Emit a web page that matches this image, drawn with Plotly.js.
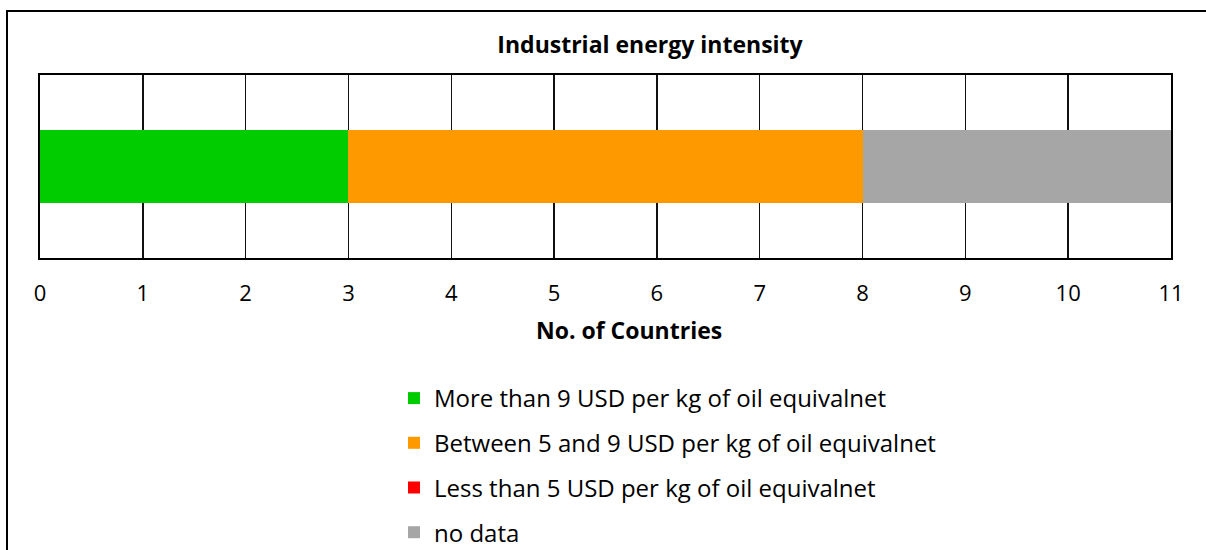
<!DOCTYPE html>
<html>
<head>
<meta charset="utf-8">
<script src="https://cdn.plot.ly/plotly-3.0.1.min.js"></script>
<style>
  html, body { margin: 0; padding: 0; overflow: hidden; background: #fff; }
  #chart { position: absolute; left: 0; top: 0; width: 1206px; height: 550px; }
  #frame { position: absolute; left: 6px; top: 10px; width: 1300px; height: 700px;
           border-left: 2px solid #000; border-top: 2px solid #000; pointer-events: none; }
</style>
</head>
<body>
<div id="chart"></div>
<div id="frame"></div>
<script>
const categories = [''];
const seriesNames = [
  'More than 9 USD per kg of oil equivalnet',
  'Between 5 and 9 USD per kg of oil equivalnet',
  'Less than 5 USD per kg of oil equivalnet',
  'no data'
];
const seriesValues = [[3], [5], [0], [3]];
const seriesColors = ['#00CC00', '#FF9900', '#FF0000', '#A6A6A6'];
const xTickValues = [0,1,2,3,4,5,6,7,8,9,10,11];

const FONT = 'Open Sans, Noto Sans, sans-serif';

const traces = seriesNames.map((name, i) => ({
  type: 'bar',
  orientation: 'h',
  name: name,
  y: categories,
  x: seriesValues[i],
  marker: { color: seriesColors[i], line: { width: 0 } },
  legendgroup: 'g' + i,
  hoverinfo: 'x+name'
}));

const layout = {
  width: 1206,
  height: 550,
  margin: { l: 40, r: 35, t: 75, b: 292, autoexpand: false },
  paper_bgcolor: '#fff',
  plot_bgcolor: '#fff',
  barmode: 'stack',
  bargap: 0.6,
  font: { family: FONT, size: 22, color: '#000' },
  title: {
    text: '<b>Industrial energy intensity</b>',
    font: { family: FONT, size: 23, color: '#000' },
    x: 650 / 1206, xanchor: 'center',
    y: 1 - 45 / 550, yanchor: 'middle', yref: 'container'
  },
  xaxis: {
    range: [0, 11],
    tickvals: xTickValues,
    ticktext: xTickValues.map(String),
    showgrid: true,
    gridcolor: '#111',
    gridwidth: 1.5,
    showline: true,
    mirror: true,
    linecolor: '#000',
    linewidth: 2,
    zeroline: false,
    ticks: '',
    ticklabelstandoff: 15,
    automargin: false,
    tickfont: { family: FONT, size: 22, color: '#000' },
    fixedrange: true
  },
  yaxis: {
    range: [-0.5, 0.5],
    showgrid: false,
    showline: true,
    mirror: true,
    linecolor: '#000',
    linewidth: 2,
    zeroline: false,
    showticklabels: false,
    ticks: '',
    automargin: false,
    fixedrange: true
  },
  annotations: [{
    text: '<b>No. of Countries</b>',
    xref: 'paper', yref: 'paper',
    x: (629 - 40) / 1131, y: (258 - 330) / 183,
    xanchor: 'center', yanchor: 'middle',
    showarrow: false,
    font: { family: FONT, size: 23, color: '#000' }
  }],
  showlegend: true,
  legend: {
    orientation: 'v',
    xref: 'paper', yref: 'paper',
    x: (394 - 40) / 1131, xanchor: 'left',
    y: (258 - 376) / 183, yanchor: 'top',
    traceorder: 'grouped',
    tracegroupgap: 10.5,
    font: { family: FONT, size: 24, color: '#000' },
    bgcolor: 'rgba(0,0,0,0)',
    itemclick: false, itemdoubleclick: false
  }
};

Plotly.newPlot('chart', traces, layout, { displayModeBar: false, staticPlot: true });
</script>
</body>
</html>
